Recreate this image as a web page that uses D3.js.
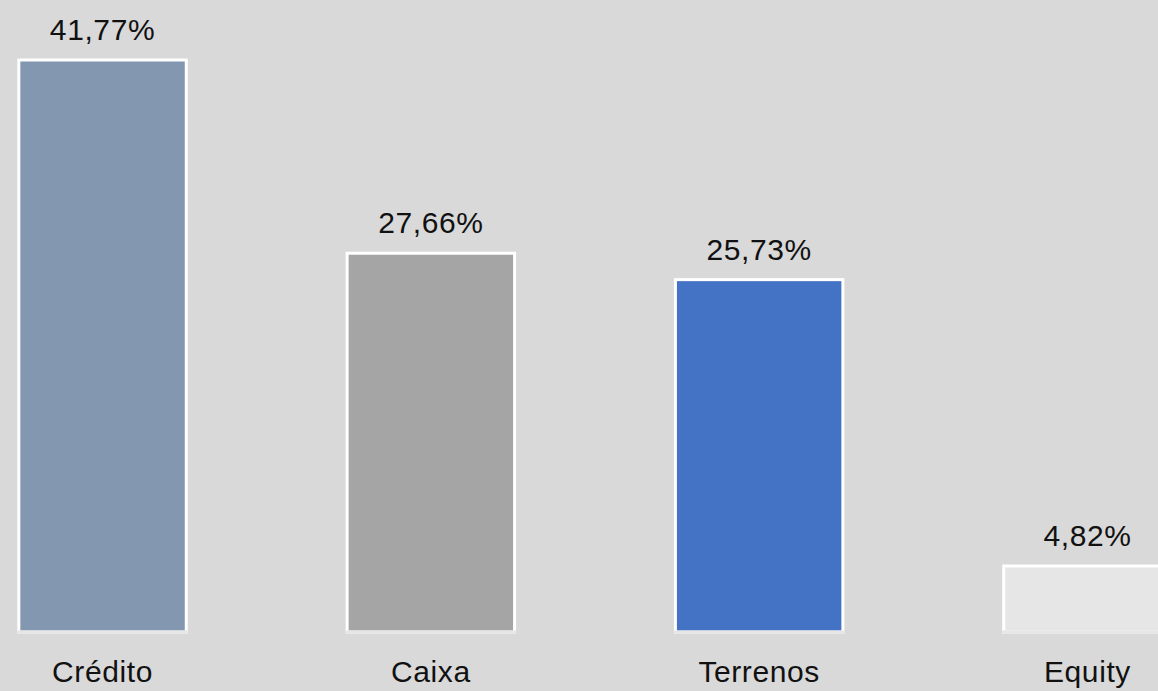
<!DOCTYPE html>
<html><head><meta charset="utf-8">
<script src="https://cdn.jsdelivr.net/npm/d3@7"></script>
<style>html,body{margin:0;padding:0;background:#d9d9d9;overflow:hidden}</style>
</head><body>
<svg id="c" width="1158" height="691"></svg>
<script>
const categories = ["Crédito", "Caixa", "Terrenos", "Equity"];
const values = [41.77, 27.66, 25.73, 4.82];
const labels = ["41,77%", "27,66%", "25,73%", "4,82%"];
const colors = ["#8497b0", "#a5a5a5", "#4472c4", "#e7e6e6"];

const svg = d3.select("#c");
svg.append("rect").attr("width",1158).attr("height",691).attr("fill","#d9d9d9");
const x = d3.scaleBand().domain(categories).range([-61.6, 1251.6]).paddingInner(0.49).paddingOuter(0.245);
const y = d3.scaleLinear().domain([0, 41.77]).range([632, 60]);
const font = "'Liberation Sans', Arial, sans-serif";

svg.selectAll("rect.bar").data(categories).join("rect").attr("class","bar")
  .attr("x", d => x(d)).attr("width", x.bandwidth())
  .attr("y", (d,i) => y(values[i])).attr("height", (d,i) => y(0) - y(values[i]))
  .attr("fill", (d,i) => colors[i]).attr("stroke", "#ffffff").attr("stroke-width", 3);

svg.selectAll("line.base").data(categories).join("line").attr("class","base")
  .attr("x1", d => x(d) - 1.5).attr("x2", d => x(d) + x.bandwidth() + 1.5)
  .attr("y1", y(0)).attr("y2", y(0))
  .attr("stroke", "#e6e6e6").attr("stroke-width", 3);

svg.selectAll("text.val").data(categories).join("text").attr("class","val")
  .attr("x", d => x(d) + x.bandwidth()/2).attr("y", (d,i) => y(values[i]) - 20)
  .attr("text-anchor","middle").attr("font-family", font).attr("font-size", 30)
  .attr("letter-spacing", 0.6)
  .attr("fill","#111").text((d,i) => labels[i]);

svg.selectAll("text.cat").data(categories).join("text").attr("class","cat")
  .attr("x", d => x(d) + x.bandwidth()/2).attr("y", 682)
  .attr("text-anchor","middle").attr("font-family", font).attr("font-size", 30)
  .attr("letter-spacing", 0.6)
  .attr("fill","#111").text(d => d);
</script>
</body></html>
